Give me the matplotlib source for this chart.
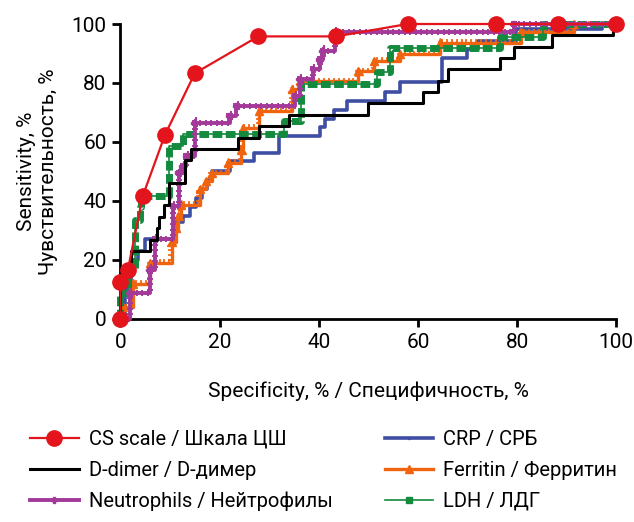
import matplotlib
matplotlib.use('Agg')
import matplotlib.pyplot as plt
import matplotlib.patheffects as pe

plt.rcParams['font.family'] = ['Roboto', 'DejaVu Sans']

# ROC curves, x = 100 - specificity (%), y = sensitivity (%)
cs_x = [0, 0, 1.5, 4.5, 9.0, 15.0, 27.8, 43.5, 57.9, 75.8, 88.3, 100]
cs_y = [0, 12.5, 16.7, 41.7, 62.5, 83.3, 95.8, 95.8, 100, 100, 100, 100]

# step curves: x where each level starts, level
dd_x = [0, 0, 2.0, 2.2, 5.9, 7.3, 7.8, 8.8, 9.8, 13.0, 14.3, 23.7, 28.0, 34.0,
        50.0, 61.0, 64.1, 66.0, 76.6, 79.3, 87.1, 99.3, 100]
dd_y = [0, 15.4, 19.2, 23.1, 26.9, 30.8, 34.6, 38.5, 46.2, 53.8, 57.7, 61.5,
        65.4, 69.2, 73.1, 76.9, 80.8, 84.6, 88.5, 92.3, 96.2, 100, 100]

neu_x = [0, 1.9, 5.9, 6.9, 10.6, 11.8, 12.6, 13.3, 15.0, 22.0, 23.4, 35.2,
         36.2, 38.9, 40.2, 40.8, 43.3, 79.3, 100]
neu_y = [0, 8.7, 16.7, 27.0, 38.2, 49.6, 51.8, 55.2, 66.5, 68.8, 72.2, 75.6,
         81.3, 84.7, 88.0, 90.9, 97.2, 100, 100]

crp_x = [0, 1.0, 2.2, 3.5, 5.0, 11.3, 12.6, 14.0, 15.3, 16.5, 17.5, 18.4, 22.0,
         27.0, 32.0, 40.2, 41.2, 43.0, 45.6, 53.4, 56.4, 64.8, 69.9, 72.2,
         79.7, 97.2, 100]
crp_y = [0, 10, 20, 23, 27, 33, 35, 38, 41, 44, 47, 50, 53.5, 56.4, 62, 65,
         67.7, 71, 74, 76.8, 80.2, 88.6, 91.5, 94.3, 98.3, 100, 100]

fer_x = [0, 0.5, 2.5, 6.0, 10.3, 11.2, 11.7, 12.2, 16.0, 17.3, 18.4, 21.7,
         24.4, 24.7, 28.0, 34.6, 36.2, 48.0, 51.2, 56.4, 64.5, 80.7, 91.4, 100]
fer_y = [0, 4, 12, 19, 26, 31, 35, 38.8, 44, 46.7, 49.5, 53, 57.5, 64.8, 70.5,
         78, 80.7, 84, 87.5, 89.8, 93.7, 97.2, 100, 100]

ldh_x = [0, 0, 1.5, 2.9, 3.9, 4.2, 9.8, 12.6, 33.0, 36.5, 51.7, 54.4, 76.6,
         85.3, 100]
ldh_y = [0, 8.7, 16.7, 33.7, 37.8, 41.8, 58.6, 62.8, 67.1, 79.6, 83.6, 92.0,
         95.5, 100, 100]

c_cs, c_crp, c_fer = '#e3141b', '#3f4ea3', '#f0640f'
c_ldh, c_neu = '#138a3e', '#a33a9a'

plt.figure(figsize=(6.34, 5.22), dpi=100)
ax = plt.axes([0.190, 0.389, 0.782, 0.565])

ax.plot(crp_x, crp_y, drawstyle='steps-post', color=c_crp, lw=2.6,
        marker='.', ms=3, clip_on=False, zorder=3)
ax.plot(fer_x, fer_y, drawstyle='steps-post', color=c_fer, lw=2.4,
        marker='^', ms=6, clip_on=False, zorder=4,
        path_effects=[pe.Normal(),
                      pe.TickedStroke(angle=90, spacing=3.5, length=0.5,
                                      linewidth=1.3)])
ax.plot(ldh_x, ldh_y, drawstyle='steps-post', color=c_ldh, lw=1.2,
        clip_on=False, zorder=4)
ax.plot(ldh_x, ldh_y, drawstyle='steps-post', color=c_ldh, lw=5,
        dashes=(1.4, 0.5), clip_on=False, zorder=4)
ax.plot(neu_x, neu_y, drawstyle='steps-post', color=c_neu, lw=2.8,
        marker='P', ms=5, clip_on=False, zorder=5,
        path_effects=[pe.Normal(),
                      pe.TickedStroke(angle=90, spacing=4, length=0.35,
                                      linewidth=1.4),
                      pe.TickedStroke(angle=-90, spacing=4, length=0.35,
                                      linewidth=1.4)])
ax.plot(dd_x, dd_y, drawstyle='steps-post', color='black', lw=2.2,
        clip_on=False, zorder=6)
ax.plot(cs_x, cs_y, color=c_cs, lw=1.6, marker='o', ms=11,
        clip_on=False, zorder=7)

ax.set_xlim(0, 100)
ax.set_ylim(0, 100)
ax.set_xticks([0, 20, 40, 60, 80, 100])
ax.set_yticks([0, 20, 40, 60, 80, 100])
ax.tick_params(labelsize=15, width=2, length=6, pad=4)
for s in ['top', 'right']:
    ax.spines[s].set_visible(False)
for s in ['left', 'bottom']:
    ax.spines[s].set_linewidth(2)

ax.set_xlabel('Specificity, % / Специфичность, %', fontsize=15, labelpad=21)
ax.set_ylabel('Sensitivity, %\nЧувствительность, %', fontsize=15, labelpad=10)

# legend proxies (plain line + marker, as in the original key)
handles = [
    plt.Line2D([], [], color=c_cs, lw=1.6, marker='o', ms=11),
    plt.Line2D([], [], color='black', lw=2.2),
    plt.Line2D([], [], color=c_neu, lw=2.8, marker='P', ms=5),
    plt.Line2D([], [], color=c_crp, lw=2.6, marker='.', ms=3),
    plt.Line2D([], [], color=c_fer, lw=2.4, marker='^', ms=6),
    plt.Line2D([], [], color=c_ldh, lw=1.2, marker='s', ms=5),
]
labels = ['CS scale / Шкала ЦШ', 'D-dimer / D-димер', 'Neutrophils / Нейтрофилы',
          'CRP / СРБ', 'Ferritin / Ферритин', 'LDH / ЛДГ']
plt.figlegend(handles, labels, ncol=2, loc='upper left',
              bbox_to_anchor=(0.035, 0.192), frameon=False, fontsize=14.5,
              handlelength=2.4, columnspacing=2.6, labelspacing=0.6,
              handletextpad=0.5, borderaxespad=0)

plt.savefig('out.png', dpi=100)
